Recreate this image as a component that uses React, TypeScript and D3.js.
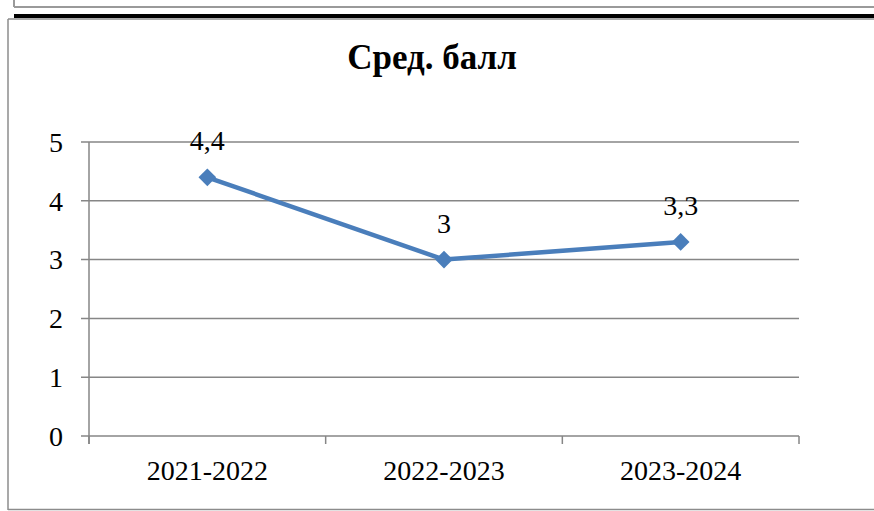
import React from "react";
import * as d3 from "d3";

const categories = ["2021-2022", "2022-2023", "2023-2024"];
const values = [4.4, 3, 3.3];
const valueLabels = ["4,4", "3", "3,3"];
const yTicks = [0, 1, 2, 3, 4, 5];
const title = "Сред. балл";

const W = 874;
const H = 511;
const plot = { left: 89, right: 799, top: 142, bottom: 436 };
const FONT = "Liberation Serif, DejaVu Serif, serif";
const BLUE = "#4A7EBB";
const GRID = "#868686";
const txt = { fontFamily: FONT } as React.CSSProperties;

export default function App() {
  const x = d3.scaleBand().domain(categories).range([plot.left, plot.right]);
  const y = d3.scaleLinear().domain([0, 5]).range([plot.bottom, plot.top]);
  const cx = (c: string) => (x(c) as number) + x.bandwidth() / 2;
  const line = d3
    .line<number>()
    .x((_, i) => cx(categories[i]))
    .y((d) => y(d));
  const diamond = d3.symbol().type(d3.symbolDiamond2).size(200);
  const xBounds = [...categories.map((c) => x(c) as number), plot.right];

  return (
    <svg
      width={W}
      height={H}
      style={{ position: "absolute", left: 0, top: 0, background: "#fff" }}
    >
      <line x1={14} y1={0} x2={14} y2={7} stroke="#9a9a9a" strokeWidth={2} />
      <line x1={14} y1={7} x2={W} y2={7} stroke="#9a9a9a" strokeWidth={2} />
      <rect x={14} y={14} width={W - 14} height={4} fill="#000" />
      <line x1={8} y1={19} x2={W} y2={19} stroke="#8c8c8c" strokeWidth={1.5} />
      <line x1={8} y1={19} x2={8} y2={510} stroke="#8c8c8c" strokeWidth={1.5} />
      <line x1={8} y1={509.5} x2={W} y2={509.5} stroke="#8c8c8c" strokeWidth={1.5} />

      <text
        x={432}
        y={69}
        textAnchor="middle"
        style={txt}
        fontWeight="bold"
        fontSize={35}
      >
        {title}
      </text>

      {yTicks.map((t) => (
        <g key={t}>
          <line
            x1={plot.left - 8}
            x2={plot.right}
            y1={y(t)}
            y2={y(t)}
            stroke={GRID}
            strokeWidth={1.5}
          />
          <text
            x={63}
            y={y(t)}
            dy="0.35em"
            textAnchor="end"
            style={txt}
            fontSize={28}
          >
            {t}
          </text>
        </g>
      ))}
      <line
        x1={plot.left}
        x2={plot.left}
        y1={plot.top}
        y2={plot.bottom + 8}
        stroke={GRID}
        strokeWidth={1.5}
      />
      {xBounds.map((b, i) => (
        <line
          key={i}
          x1={b}
          x2={b}
          y1={plot.bottom}
          y2={plot.bottom + 8}
          stroke={GRID}
          strokeWidth={1.5}
        />
      ))}
      {categories.map((c) => (
        <text
          key={c}
          x={cx(c)}
          y={480}
          textAnchor="middle"
          style={txt}
          fontSize={28}
        >
          {c}
        </text>
      ))}

      <path
        d={line(values) || ""}
        fill="none"
        stroke={BLUE}
        strokeWidth={4.5}
        strokeLinejoin="round"
      />
      {values.map((v, i) => (
        <path
          key={i}
          d={diamond() || ""}
          transform={`translate(${cx(categories[i])},${y(v)})`}
          fill={BLUE}
        />
      ))}
      {values.map((v, i) => (
        <text
          key={"l" + i}
          x={cx(categories[i])}
          y={y(v) - 27}
          textAnchor="middle"
          style={txt}
          fontSize={28}
        >
          {valueLabels[i]}
        </text>
      ))}
    </svg>
  );
}
